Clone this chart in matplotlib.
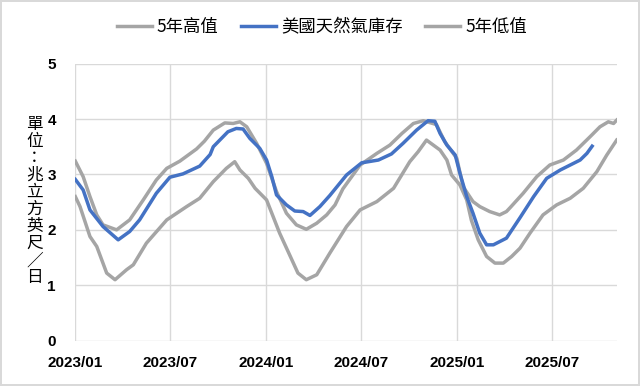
import matplotlib
matplotlib.use("Agg")
import matplotlib.pyplot as plt
import matplotlib.dates as mdates
import pandas as pd

plt.rcParams['font.family'] = ['Noto Sans CJK TC', 'DejaVu Sans']

# 5年高值
high_dates = ['2023-01-01', '2023-01-16', '2023-01-29', '2023-02-11', '2023-02-23', '2023-03-21',
              '2023-04-15', '2023-05-11', '2023-06-05', '2023-06-25', '2023-07-20', '2023-08-21',
              '2023-09-05', '2023-09-22', '2023-10-14', '2023-10-30', '2023-11-12', '2023-11-25',
              '2023-12-14', '2024-01-02', '2024-01-21', '2024-02-09', '2024-02-28', '2024-03-18',
              '2024-04-07', '2024-04-26', '2024-05-12', '2024-05-27', '2024-06-29', '2024-07-31',
              '2024-08-25', '2024-09-17', '2024-10-09', '2024-10-28', '2024-11-22', '2024-12-08',
              '2024-12-31', '2025-01-12', '2025-01-31', '2025-02-13', '2025-03-04', '2025-03-23',
              '2025-04-05', '2025-04-12', '2025-05-07', '2025-06-02', '2025-06-27', '2025-07-23',
              '2025-08-17', '2025-09-12', '2025-10-01', '2025-10-17', '2025-10-27', '2025-11-02']
high_vals = [3.24, 2.96, 2.60, 2.27, 2.09, 2.00,
             2.18, 2.54, 2.90, 3.11, 3.24, 3.46,
             3.60, 3.80, 3.93, 3.92, 3.95, 3.86,
             3.56, 3.20, 2.69, 2.30, 2.09, 2.01,
             2.12, 2.27, 2.45, 2.74, 3.17, 3.38,
             3.53, 3.74, 3.92, 3.97, 3.90, 3.59,
             3.29, 2.78, 2.51, 2.42, 2.33, 2.27,
             2.33, 2.40, 2.66, 2.96, 3.17, 3.26,
             3.44, 3.68, 3.86, 3.95, 3.92, 3.98]

# 美國天然氣庫存
stock_dates = ['2023-01-01', '2023-01-16', '2023-01-29', '2023-02-23', '2023-03-24', '2023-04-15',
               '2023-05-04', '2023-06-05', '2023-07-01', '2023-07-26', '2023-08-27', '2023-09-16',
               '2023-09-22', '2023-10-20', '2023-11-05', '2023-11-18', '2023-12-01', '2023-12-20',
               '2024-01-02', '2024-01-12', '2024-01-21', '2024-02-09', '2024-02-25', '2024-03-12',
               '2024-03-25', '2024-04-13', '2024-05-02', '2024-05-21', '2024-06-03', '2024-07-02',
               '2024-08-03', '2024-08-28', '2024-09-19', '2024-10-15', '2024-11-06', '2024-11-19',
               '2024-11-29', '2024-12-12', '2024-12-28', '2025-01-06', '2025-01-19', '2025-01-31',
               '2025-02-13', '2025-02-26', '2025-03-11', '2025-04-05', '2025-05-01', '2025-05-27',
               '2025-06-21', '2025-07-17', '2025-08-05', '2025-08-24', '2025-09-06', '2025-09-16']
stock_vals = [2.91, 2.72, 2.36, 2.06, 1.82, 1.97,
              2.18, 2.66, 2.95, 3.01, 3.15, 3.36,
              3.50, 3.77, 3.83, 3.82, 3.65, 3.47,
              3.26, 2.96, 2.63, 2.45, 2.34, 2.33,
              2.26, 2.42, 2.62, 2.84, 2.99, 3.21,
              3.26, 3.37, 3.56, 3.80, 3.97, 3.96,
              3.74, 3.53, 3.35, 3.02, 2.60, 2.30,
              1.94, 1.73, 1.73, 1.85, 2.22, 2.60,
              2.93, 3.08, 3.17, 3.26, 3.38, 3.51]

# 5年低值
low_dates = ['2023-01-01', '2023-01-10', '2023-01-29', '2023-02-11', '2023-03-02', '2023-03-18',
             '2023-04-09', '2023-04-22', '2023-05-17', '2023-06-25', '2023-08-02', '2023-08-27',
             '2023-09-22', '2023-10-17', '2023-11-02', '2023-11-12', '2023-11-28', '2023-12-11',
             '2024-01-02', '2024-01-27', '2024-02-15', '2024-03-02', '2024-03-18', '2024-04-07',
             '2024-05-02', '2024-06-03', '2024-06-29', '2024-07-31', '2024-09-01', '2024-10-02',
             '2024-10-18', '2024-11-03', '2024-11-29', '2024-12-12', '2024-12-21', '2025-01-06',
             '2025-01-19', '2025-01-28', '2025-02-10', '2025-02-26', '2025-03-14', '2025-03-30',
             '2025-04-15', '2025-05-01', '2025-05-20', '2025-06-14', '2025-07-10', '2025-08-05',
             '2025-08-30', '2025-09-25', '2025-10-14', '2025-11-02']
low_vals = [2.60, 2.42, 1.88, 1.70, 1.22, 1.10,
            1.28, 1.37, 1.76, 2.18, 2.42, 2.57,
            2.87, 3.11, 3.23, 3.08, 2.93, 2.75,
            2.54, 1.94, 1.55, 1.22, 1.10, 1.19,
            1.58, 2.06, 2.36, 2.51, 2.75, 3.23,
            3.41, 3.62, 3.44, 3.26, 2.99, 2.81,
            2.54, 2.17, 1.82, 1.52, 1.40, 1.40,
            1.52, 1.67, 1.94, 2.27, 2.45, 2.57,
            2.75, 3.05, 3.35, 3.62]

tick_dates = ['2023-01-01', '2023-07-01', '2024-01-01', '2024-07-01', '2025-01-01', '2025-07-01']
y_label = '單位：兆立方英尺／日'

grey = '#a5a5a5'
blue = '#4472c4'

fig = plt.figure(figsize=(6.4, 3.86), dpi=100)
fig.patch.set_edgecolor('#d9d9d9')
fig.patch.set_linewidth(1.5)
ax = fig.add_axes([0.1177, 0.1174, 0.9636 - 0.1177, 0.8352 - 0.1174])

ax.plot(pd.to_datetime(high_dates), high_vals, color=grey, lw=2.5, label='5年高值', zorder=3)
ax.plot(pd.to_datetime(low_dates), low_vals, color=grey, lw=2.5, label='5年低值', zorder=3)
ax.plot(pd.to_datetime(stock_dates), stock_vals, color=blue, lw=2.5, label='美國天然氣庫存', zorder=4)

ax.set_xlim(pd.Timestamp('2023-01-01'), pd.Timestamp('2025-11-02'))
ax.set_ylim(0, 5)
ax.set_xticks(pd.to_datetime(tick_dates))
ax.xaxis.set_major_formatter(mdates.DateFormatter('%Y/%m'))
ax.set_yticks(range(0, 6))
ax.grid(True, color='#d9d9d9', lw=1)
ax.set_axisbelow(True)
for s in ax.spines.values():
    s.set_visible(False)
ax.tick_params(length=0, labelsize=11, pad=11)
ax.tick_params(axis='y', pad=14)
for lab in ax.get_xticklabels() + ax.get_yticklabels():
    lab.set_fontfamily(['Liberation Sans', 'DejaVu Sans'])
    lab.set_fontweight('bold')

fig.text(0.054, 0.479, '\n'.join(y_label), ha='center', va='center',
         fontsize=12, linespacing=1.0)

h, l = ax.get_legend_handles_labels()
order = [0, 2, 1]
fig.legend([h[i] for i in order], [l[i] for i in order], loc='center',
           bbox_to_anchor=(0.503, 0.93), ncol=3, frameon=False, fontsize=12.5,
           handlelength=2.0, handletextpad=0.3, columnspacing=1.3)

fig.savefig('out.png', dpi=100)
